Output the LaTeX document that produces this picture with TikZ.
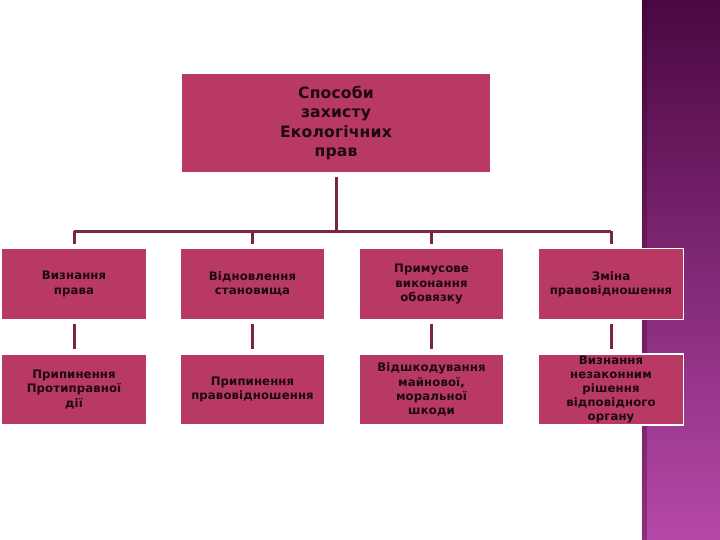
\documentclass[tikz,border=0pt]{standalone}
\usepackage{fontspec}
\setmainfont{DejaVu Sans}[LetterSpace=1]
\usetikzlibrary{positioning}
\definecolor{boxfill}{RGB}{184,58,100}
\definecolor{linec}{RGB}{122,36,70}
\definecolor{txt}{RGB}{30,8,18}
\definecolor{stripTop}{RGB}{74,8,66}
\definecolor{stripBot}{RGB}{182,72,168}
\tikzset{
  base/.style={draw=white, line width=1.5pt, fill=boxfill, text=txt, align=center, font=\bfseries, inner sep=0pt},
  topbox/.style={base, minimum width=310pt, minimum height=100pt, font=\bfseries\fontsize{15.6}{19.5}\selectfont},
  smallbox/.style={base, minimum width=145pt, minimum height=71pt, font=\bfseries\fontsize{11.7}{14.2}\selectfont},
  conn/.style={draw=linec, line width=3pt},
}
\begin{document}
\begin{tikzpicture}[x=1pt,y=-1pt]
\useasboundingbox (0,0) rectangle (720,540);
\fill[white] (0,0) rectangle (720,540);
% right strip
\shade[top color=stripTop, bottom color=stripBot] (642,0) rectangle (720,540);
\fill[black!25!stripTop, opacity=0.35] (642,0) rectangle (647,540);
\draw[white!80!pink, line width=1pt] (641.5,0) -- (641.5,540);

\node[topbox] (top) at (336,123) {Способи\\захисту\\Екологічних\\прав};

\node[smallbox] (a1) at (74,284) {Визнання\\права};
\node[smallbox] (a2) at (252.5,284) {Відновлення\\становища};
\node[smallbox] (a3) at (431.5,284) {Примусове\\виконання\\обовязку};
\node[smallbox] (a4) at (611,284) {Зміна\\правовідношення};

\node[smallbox] (b1) at (74,389.5) {Припинення\\Протиправної\\дії};
\node[smallbox] (b2) at (252.5,389.5) {Припинення\\правовідношення};
\node[smallbox] (b3) at (431.5,389.5) {Відшкодування\\майнової,\\моральної\\шкоди};
\node[smallbox] (b4) at (611,389.5) {Визнання\\незаконним\\рішення\\відповідного\\органу};

\coordinate (bus) at (336,231.5);
\draw[conn] (top.south) ++(0,3) -- (bus);
\draw[conn] (a1.north |- bus) -- (a4.north |- bus);
\foreach \n in {a1,a2,a3,a4}
  \draw[conn] (\n.north |- bus) -- ([yshift=4pt]\n.north);
\foreach \u/\l in {a1/b1,a2/b2,a3/b3,a4/b4}
  \draw[conn] ([yshift=-4pt]\u.south) -- ([yshift=4pt]\l.north);
\end{tikzpicture}
\end{document}
